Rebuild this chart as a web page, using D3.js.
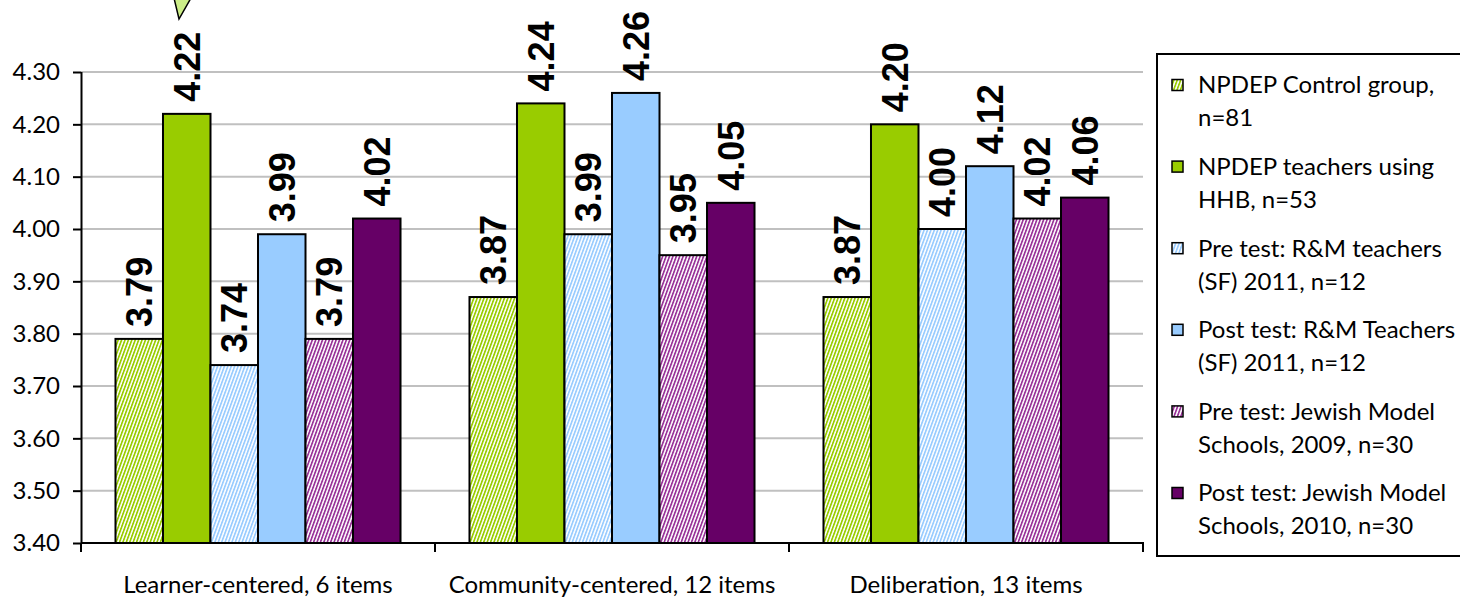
<!DOCTYPE html>
<html>
<head>
<meta charset="utf-8">
<script src="https://cdn.jsdelivr.net/npm/d3@7"></script>
<style>
  html, body { margin: 0; padding: 0; background: #fff; }
  svg { display: block; }
</style>
</head>
<body>
<svg id="chart" width="1460" height="599"></svg>
<script>
// Survey scale means by category and respondent group
const categories = ["Learner-centered, 6 items", "Community-centered, 12 items", "Deliberation, 13 items"];
const seriesNames = [
  ["NPDEP Control group,", "n=81"],
  ["NPDEP teachers using", "HHB, n=53"],
  ["Pre test: R&M teachers", "(SF) 2011, n=12"],
  ["Post test: R&M Teachers", "(SF) 2011, n=12"],
  ["Pre test: Jewish Model", "Schools, 2009, n=30"],
  ["Post test: Jewish Model", "Schools, 2010, n=30"]
];
const controlGroup = [3.79, 3.87, 3.87];
const hhbTeachers  = [4.22, 4.24, 4.20];
const rmPre        = [3.74, 3.99, 4.00];
const rmPost       = [3.99, 4.26, 4.12];
const jmPre        = [3.79, 3.95, 4.02];
const jmPost       = [4.02, 4.05, 4.06];
const yTicks = [3.40, 3.50, 3.60, 3.70, 3.80, 3.90, 4.00, 4.10, 4.20, 4.30];

const seriesValues = [controlGroup, hhbTeachers, rmPre, rmPost, jmPre, jmPost];
const seriesStyle = [
  { color: "#99cc00", hatch: true },
  { color: "#99cc00", hatch: false },
  { color: "#99ccff", hatch: true },
  { color: "#99ccff", hatch: false },
  { color: "#993399", hatch: true },
  { color: "#660066", hatch: false }
];

const svg = d3.select("#chart");
const plot = { left: 81, right: 1143, top: 72, bottom: 543 };
const labelFont = "Lato, 'Open Sans', sans-serif";
const labelSize = 24;

// hatch fills
const defs = svg.append("defs");
seriesStyle.forEach((s, i) => {
  if (!s.hatch) return;
  const p = defs.append("pattern")
    .attr("id", "hatch" + i)
    .attr("patternUnits", "userSpaceOnUse")
    .attr("width", 3.2).attr("height", 4)
    .attr("patternTransform", "rotate(20)");
  p.append("rect").attr("width", 3.2).attr("height", 4).attr("fill", "#fff");
  p.append("rect").attr("width", 1.7).attr("height", 4).attr("fill", s.color);
});
const fillOf = i => seriesStyle[i].hatch ? `url(#hatch${i})` : seriesStyle[i].color;

const x0 = d3.scaleBand().domain(categories).range([plot.left, plot.right]).padding(0);
const x1 = d3.scaleBand().domain(d3.range(seriesValues.length))
  .range([0, x0.bandwidth()]).paddingInner(0).paddingOuter(0.726);
const y = d3.scaleLinear().domain([3.4, 4.3]).range([plot.bottom, plot.top]);

// gridlines
svg.append("g").selectAll("line")
  .data(yTicks.filter(t => t > 3.4))
  .join("line")
  .attr("x1", plot.left).attr("x2", plot.right)
  .attr("y1", d => y(d)).attr("y2", d => y(d))
  .attr("stroke", "#c0c0c0").attr("stroke-width", 2);

// bars
const groups = svg.append("g").selectAll("g")
  .data(categories)
  .join("g")
  .attr("transform", d => `translate(${x0(d)},0)`);

groups.each(function(cat, ci) {
  const g = d3.select(this);
  seriesValues.forEach((vals, si) => {
    g.append("rect")
      .attr("x", x1(si))
      .attr("y", y(vals[ci]))
      .attr("width", x1.bandwidth())
      .attr("height", y(3.4) - y(vals[ci]))
      .attr("fill", fillOf(si))
      .attr("stroke", "#000")
      .attr("stroke-width", 2);
  });
  seriesValues.forEach((vals, si) => {
    const cx = x1(si) + x1.bandwidth() / 2;
    const ty = y(vals[ci]) - 12;
    g.append("text")
      .attr("transform", `translate(${cx},${ty}) rotate(-90)`)
      .attr("dy", "0.36em")
      .attr("text-anchor", "start")
      .attr("font-family", "'Liberation Sans', Arial, sans-serif")
      .attr("font-weight", "bold")
      .attr("font-size", 36)
      .attr("fill", "#000")
      .text(d3.format(".2f")(vals[ci]));
  });
});

// y axis
const yAxis = svg.append("g")
  .attr("transform", `translate(${plot.left},0)`)
  .call(d3.axisLeft(y).tickValues(yTicks).tickFormat(d3.format(".2f")).tickSize(8).tickPadding(13));
yAxis.select(".domain").attr("stroke", "#000").attr("stroke-width", 2)
  .attr("d", `M0.5,${plot.top}V${plot.bottom}`);
yAxis.selectAll(".tick line").attr("stroke", "#000").attr("stroke-width", 2);
yAxis.selectAll(".tick text")
  .attr("font-family", labelFont).attr("font-size", labelSize).attr("fill", "#000");

// x axis
const xAxis = svg.append("g").attr("transform", `translate(0,${plot.bottom})`);
xAxis.append("line")
  .attr("x1", plot.left).attr("x2", plot.right + 1)
  .attr("stroke", "#000").attr("stroke-width", 2);
xAxis.selectAll("line.sep")
  .data(categories.map(c => x0(c)).concat([plot.right]))
  .join("line").attr("class", "sep")
  .attr("x1", d => d).attr("x2", d => d)
  .attr("y1", 0).attr("y2", 9)
  .attr("stroke", "#000").attr("stroke-width", 2);
xAxis.selectAll("text")
  .data(categories)
  .join("text")
  .attr("x", d => x0(d) + x0.bandwidth() / 2)
  .attr("y", 50)
  .attr("text-anchor", "middle")
  .attr("font-family", labelFont).attr("font-size", labelSize).attr("fill", "#000")
  .text(d => d);

// callout pointer at the top
svg.append("path")
  .attr("d", "M174,-2L191,-2L179,19Z")
  .attr("fill", "#ccee88").attr("stroke", "#000").attr("stroke-width", 1.5);

// legend
const legend = svg.append("g");
legend.append("rect")
  .attr("x", 1157).attr("y", 54).attr("width", 320).attr("height", 502)
  .attr("fill", "#fff").attr("stroke", "#000").attr("stroke-width", 2);
seriesNames.forEach((lines, i) => {
  const cy = 85 + i * 81.6;
  legend.append("rect")
    .attr("x", 1172).attr("y", cy - 5.5).attr("width", 11).attr("height", 11)
    .attr("fill", fillOf(i)).attr("stroke", "#000").attr("stroke-width", 1.5);
  lines.forEach((t, li) => {
    legend.append("text")
      .attr("x", 1198).attr("y", cy + li * 33)
      .attr("dy", "0.35em")
      .attr("font-family", labelFont).attr("font-size", labelSize).attr("fill", "#000")
      .text(t);
  });
});
</script>
</body>
</html>
